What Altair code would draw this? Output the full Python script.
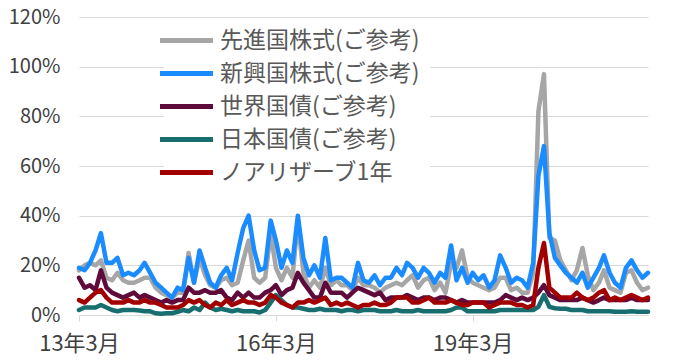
import altair as alt
import pandas as pd

names = ["先進国株式(ご参考)", "新興国株式(ご参考)", "世界国債(ご参考)", "日本国債(ご参考)", "ノアリザーブ1年"]
colors = ["#A6A6A6", "#1A8CFF", "#5E0A3B", "#186E6E", "#A20000"]

months = pd.date_range("2013-03-01", periods=105, freq="MS")

developed = [18, 20, 21, 20, 22, 15, 14, 17, 14, 13, 13, 14, 15, 15, 11, 9, 8, 7, 9, 9, 25, 13, 23, 16, 12, 11, 14,
             15, 12, 13, 22, 30, 15, 13, 15, 33, 19, 14, 19, 15, 38, 17, 11, 14, 11, 19, 12, 14, 12, 12, 10, 15, 12, 12,
             11, 9, 11, 12, 13, 12, 14, 16, 11, 14, 15, 10, 13, 9, 21, 19, 26, 15, 13, 12, 11, 10, 11, 15, 15,
             10, 11, 9, 9, 17, 82, 97, 31, 30, 22, 18, 14, 18, 27, 16, 10, 13, 18, 11, 10, 9, 17, 18, 13, 10, 11]
emerging = [19, 18, 21, 26, 33, 21, 21, 23, 16, 17, 16, 18, 21, 17, 13, 11, 9, 7, 11, 10, 23, 13, 26, 19, 13, 11, 16,
            19, 14, 25, 35, 40, 26, 18, 19, 38, 30, 19, 26, 21, 40, 23, 16, 20, 15, 31, 14, 15, 15, 13, 11, 21, 14, 13,
            16, 12, 15, 15, 19, 16, 21, 19, 15, 19, 17, 13, 17, 15, 28, 14, 19, 13, 17, 14, 16, 11, 14, 24, 19,
            13, 15, 14, 11, 21, 56, 68, 33, 23, 20, 17, 15, 13, 17, 11, 15, 19, 24, 17, 13, 11, 19, 22, 18, 15, 17]
world_bond = [15, 11, 12, 10, 18, 11, 9, 8, 7, 8, 9, 7, 8, 7, 6, 5, 6, 5, 6, 6, 11, 9, 9, 10, 9, 9, 10,
              7, 6, 9, 7, 9, 7, 7, 9, 10, 12, 8, 10, 11, 17, 13, 10, 7, 7, 13, 9, 9, 9, 7, 9, 11, 10, 9,
              8, 9, 6, 7, 7, 7, 8, 7, 6, 7, 7, 6, 7, 7, 6, 5, 6, 5, 5, 5, 5, 5, 5, 6, 8,
              7, 6, 7, 6, 7, 9, 12, 8, 7, 6, 6, 6, 6, 7, 6, 5, 6, 7, 6, 6, 6, 6, 7, 6, 6, 6]
japan_bond = [2, 3, 3, 3, 4, 3, 2, 1.5, 2, 2, 2, 1.8, 1.5, 1.5, 0.7, 0.5, 0.7, 0.7, 1.3, 2, 1.5, 3, 2, 5, 3, 2, 2.5,
              2, 1.5, 2, 1.5, 1.5, 1.5, 1, 2, 5, 8, 6, 4, 3, 3, 2.5, 2, 2, 2.5, 2, 2, 2, 1.5, 2, 2, 1.5, 2, 2,
              2, 1.5, 1.5, 1.5, 2, 1.5, 1.5, 1.5, 2, 1.5, 1.5, 1.5, 1.5, 1.5, 2, 3, 3, 1.5, 1.5, 1.5, 1.5, 1.5, 1.5, 2, 2,
              2, 2, 2, 2, 2, 3.3, 8, 3.3, 2.7, 2.5, 2.5, 2, 2, 2, 1.5, 1.5, 1.5, 1.5, 1.5, 1.3, 1.3, 1.3, 1.5, 1.3, 1.3, 1.3]
noa_reserve = [6, 5, 7, 9, 10, 7, 5, 5, 5, 6, 5, 5, 6, 5, 5, 4, 3, 3, 3, 4, 6, 5, 6, 4, 3, 5, 4,
               6, 4, 5, 6, 5, 5, 4, 5, 8, 7, 5, 4, 3, 5, 5, 6, 5, 6, 7, 4, 5, 4, 5, 4, 3, 4, 4,
               5, 4, 4, 5, 7, 7, 7, 5, 5, 6, 7, 5, 5, 5, 6, 5, 4, 4, 5, 5, 5, 3, 4, 5, 5,
               5, 4, 4, 3, 4, 19, 29, 11, 9, 7, 7, 7, 9, 7, 6, 7, 9, 10, 6, 7, 6, 7, 8, 7, 6, 7]

y_ticks = [0, 20, 40, 60, 80, 100, 120]

rows = []
for name, vals in zip(names, [developed, emerging, world_bond, japan_bond, noa_reserve]):
    for d, v in zip(months, vals):
        rows.append({"date": d, "series": name, "value": v})
df = pd.DataFrame(rows)

FONT = "Noto Sans CJK JP"

chart = alt.Chart(df).mark_line(strokeWidth=4.5, strokeJoin="round", strokeCap="round").encode(
    x=alt.X(
        "date:T",
        scale=alt.Scale(domain=[alt.DateTime(year=2013, month=3, date=1),
                                alt.DateTime(year=2021, month=11, date=1)]),
        axis=alt.Axis(
            title=None,
            values=[alt.DateTime(year=2013, month=3, date=1),
                    alt.DateTime(year=2016, month=3, date=1),
                    alt.DateTime(year=2019, month=3, date=1)],
            labelExpr="timeFormat(datum.value, '%y') + '年' + (month(datum.value) + 1) + '月'",
            grid=False,
            labelFlush=False,
            domainColor="#D9D9D9",
            tickColor="#D9D9D9",
            tickSize=6,
            labelFontSize=22,
            labelColor="#404040",
            labelFont=FONT,
            labelPadding=12,
        ),
    ),
    y=alt.Y(
        "value:Q",
        scale=alt.Scale(domain=[0, 120], nice=False),
        axis=alt.Axis(
            title=None,
            values=y_ticks,
            labelExpr="datum.value + '%'",
            domain=False,
            ticks=False,
            gridColor="#D9D9D9",
            gridWidth=1,
            labelFontSize=20,
            labelColor="#404040",
            labelFont=FONT,
            labelPadding=19,
        ),
    ),
    color=alt.Color(
        "series:N",
        sort=names,
        scale=alt.Scale(domain=names, range=colors),
        legend=alt.Legend(
            title=None,
            orient="none",
            legendX=85,
            legendY=1,
            symbolType="M-2.65,0H2.65",
            symbolSize=400,
            symbolStrokeWidth=5,
            labelFontSize=23,
            labelFont=FONT,
            labelColor="#595959",
            labelOffset=21,
            fillColor="white",
            padding=10,
            rowPadding=8,
            labelLimit=400,
        ),
    ),
).properties(
    width=569,
    height=298,
    autosize="none",
    padding={"left": 71, "top": 9, "right": 21, "bottom": 41},
).configure_view(stroke=None)

chart.save("out.html", embed_options={"renderer": "svg", "actions": False})
